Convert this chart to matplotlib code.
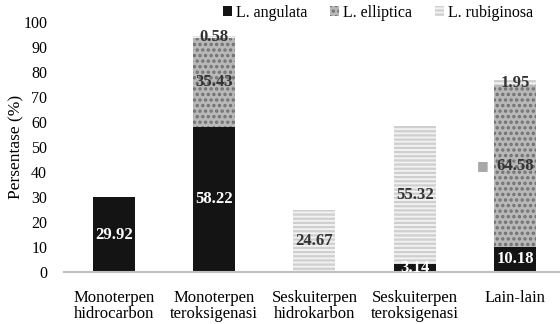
import matplotlib.pyplot as plt
import numpy as np

# Chart data.
categories = ["Monoterpen\nhidrocarbon", "Monoterpen\nteroksigenasi",
              "Seskuiterpen\nhidrokarbon", "Seskuiterpen\nteroksigenasi",
              "Lain-lain"]
species = ["L. angulata", "L. elliptica", "L. rubiginosa"]
angulata = [29.92, 58.22, 0, 3.14, 10.18]
elliptica = [0, 35.43, 0, 0, 64.58]
rubiginosa = [0, 0.58, 24.67, 55.32, 1.95]
y_ticks = [0, 10, 20, 30, 40, 50, 60, 70, 80, 90, 100]

plt.rcParams["font.family"] = ["Liberation Serif", "DejaVu Serif"]
plt.rcParams["hatch.linewidth"] = 1.6

fig = plt.figure(figsize=(5.6, 3.24), dpi=100)
ax = fig.add_axes([0.114, 0.16, 0.886, 0.772])

x = np.arange(len(categories))
width = 0.42

# Styles per series: face, hatch colour, hatch, label colour.
styles = [
    ("#141414", "#141414", None, "white"),
    ("#b8b8b8", "#707070", "...", "#333333"),
    ("#f2f2f2", "#cfcfcf", "----", "#333333"),
]

bottom = np.zeros(len(categories))
handles = []
for name, values, (face, hcol, hatch, tcol) in zip(species, [angulata, elliptica, rubiginosa], styles):
    vals = np.array(values, dtype=float)
    bars = ax.bar(x, vals, width, bottom=bottom, color=face, edgecolor=hcol,
                  hatch=hatch, linewidth=0, label=name)
    handles.append(bars)
    for xi, b, v in zip(x, bottom, vals):
        if v > 0:
            ax.text(xi, b + v / 2, f"{v:.2f}", ha="center", va="center",
                    fontsize=12, fontweight="bold", color=tcol)
            if name == "L. elliptica" and xi == 4:
                ax.annotate("■", (xi, b + v / 2), xytext=(-23, 0),
                            textcoords="offset points", ha="center", va="center",
                            fontsize=9, color="#a8a8a8", family="DejaVu Sans")
    bottom += vals

ax.set_ylim(0, 100)
ax.set_xlim(-0.5, 4.45)
ax.set_yticks(y_ticks)
ax.set_xticks(x)
ax.set_xticklabels(categories, fontsize=12, linespacing=1.0)
ax.tick_params(axis="y", length=0, labelsize=11.5, pad=12)
ax.tick_params(axis="x", length=0, pad=13)
ax.set_ylabel("Persentase (%)", fontsize=12.5)
ax.yaxis.set_label_coords(-0.08, 0.5)
for side in ["top", "right", "left"]:
    ax.spines[side].set_visible(False)
ax.spines["bottom"].set_color("#c0c0c0")
ax.spines["bottom"].set_linewidth(1.5)

fig.legend(handles=handles, loc="center", bbox_to_anchor=(0.675, 0.96), ncol=3,
           frameon=False, fontsize=11.5, handlelength=0.6, handleheight=0.6,
           handletextpad=0.25, columnspacing=1.4)

fig.savefig("out.png", dpi=100)
